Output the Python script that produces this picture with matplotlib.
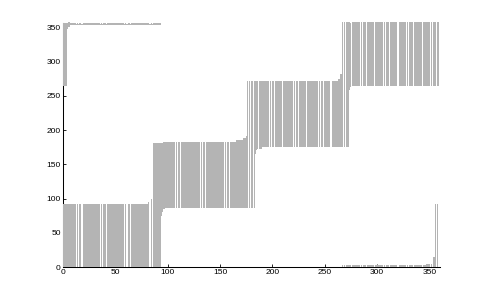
import numpy as np
import matplotlib
matplotlib.use('Agg')
import matplotlib.pyplot as plt

# main staircase: runs of samples (deg) that share the same low / high value
main_start = [0, 82, 84, 86, 94, 95, 96, 98, 131, 166, 172, 175, 176, 184, 185, 186, 191, 263, 265, 267, 274, 275, 276]
main_end = [81, 83, 85, 93, 94, 95, 97, 130, 165, 171, 174, 175, 183, 184, 185, 190, 262, 264, 266, 273, 274, 275, 359]
main_lo = [0, 0, 0, 0, 74, 80, 84, 86, 86, 86, 86, 86, 86, 165, 171, 173, 175, 175, 175, 175, 258, 263, 265]
main_hi = [92, 95, 99, 181, 181, 181, 182, 182, 183, 185, 188, 192, 272, 272, 272, 272, 272, 275, 282, 357, 357, 357, 357]

# wrapped branch at the top left
top_start = [0, 4, 5, 7]
top_end = [3, 4, 6, 93]
top_lo = [264, 348, 351, 353]
top_hi = [357, 357, 357, 357]
top_notch = 355

# wrapped branch at the bottom right
bot_start = [267, 347, 353, 354, 356]
bot_end = [346, 352, 353, 355, 358]
bot_lo = [0, 0, 0, 0, 0]
bot_hi = [3, 5, 9, 15, 92]

# samples where the trace does not cross between the two levels
gap_x = [13, 15, 18, 36, 38, 41, 59, 61, 64, 83, 85,
         107, 109, 112, 131, 133, 136, 154, 156, 159, 177, 179, 182,
         187, 197, 199, 202, 210, 220, 222, 225, 233, 244, 246, 249, 256,
         268, 270, 276, 284, 286, 290, 298, 306, 308, 312, 320, 328, 330,
         335, 343, 351, 353, 357]

ticks = [0, 50, 100, 150, 200, 250, 300, 350]


def strokes(starts, ends, los, his, notch=None):
    xs, y0, y1 = [], [], []
    for s, e, lo, hi in zip(starts, ends, los, his):
        for x in range(s, e + 1):
            if x in gap_x:
                if notch is None:
                    continue
                hi_x = notch
            else:
                hi_x = hi
            xs.append(x)
            y0.append(lo)
            y1.append(hi_x)
    return np.array(xs), np.array(y0), np.array(y1)


fig = plt.figure(figsize=(4.86, 3.0), dpi=100)
ax = fig.add_axes([0.13, 0.11, 0.775, 0.815])

gray = '#b4b4b4'
for xs, y0, y1 in [strokes(main_start, main_end, main_lo, main_hi),
                   strokes(top_start, top_end, top_lo, top_hi, notch=top_notch),
                   strokes(bot_start, bot_end, bot_lo, bot_hi)]:
    ax.bar(xs, y1 - y0, bottom=y0, width=1.0, color=gray, linewidth=0,
           antialiased=False, zorder=3, clip_on=False)

ax.set_xlim(0, 360)
ax.set_ylim(0, 357)
ax.set_xticks(ticks)
ax.set_yticks(ticks)
ax.spines['top'].set_visible(False)
ax.spines['right'].set_visible(False)
for s in ['left', 'bottom']:
    ax.spines[s].set_linewidth(0.75)
ax.tick_params(direction='in', length=2.5, width=0.6, labelsize=6, pad=1.8)
for lab in ax.get_xticklabels() + ax.get_yticklabels():
    lab.set_family('Liberation Sans')

fig.savefig('out.png', dpi=100, facecolor='white')
